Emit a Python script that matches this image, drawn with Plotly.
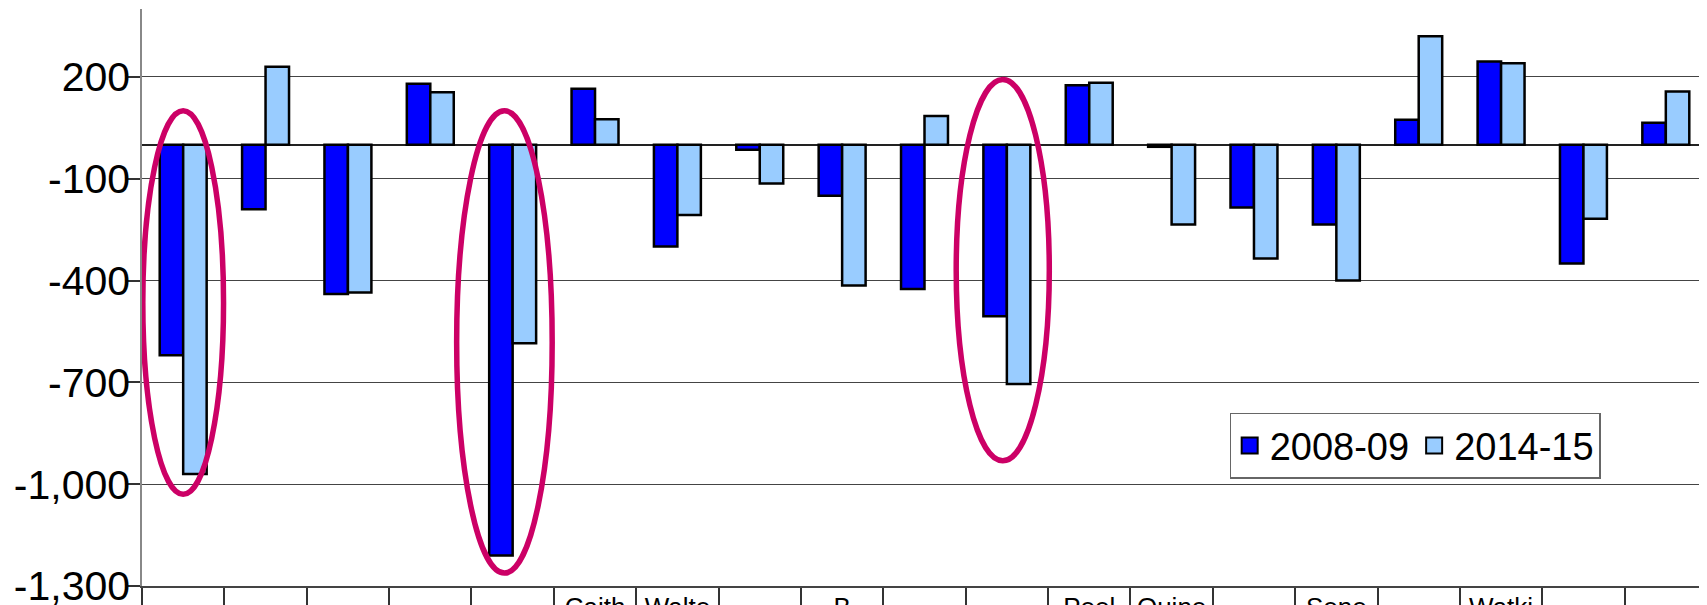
import plotly.graph_objects as go

# ---- data ----
categories = ["", "", "", "", "", "Caith", "Walte", "", "B", "", "",
              "Peel", "Quine", "", "Sene", "", "Watki", "", ""]
series_2008 = [-620, -190, -440, 180, -1210, 165, -300, -15, -150, -425, -505,
               175, -6, -185, -235, 74, 245, -350, 65]
series_2014 = [-970, 230, -435, 155, -585, 75, -207, -114, -415, 85, -705,
               183, -235, -335, -400, 320, 240, -218, 157]
series_names = ["2008-09", "2014-15"]
series_colors = ["#0000FF", "#99CCFF"]
y_ticks = [200, -100, -400, -700, -1000, -1300]
# highlighted groups: category index, centre offset, half width (in categories), top, bottom (data units)
highlights = [
    dict(cat=0, off=0.0, half=0.49, top=100, bottom=-1030),
    dict(cat=4, off=-0.10, half=0.58, top=100, bottom=-1262),
    dict(cat=10, off=-0.05, half=0.565, top=192, bottom=-931),
]

x = list(range(len(categories)))
FONT = "Liberation Sans, Arial, sans-serif"

fig = go.Figure()
for name, color, vals in zip(series_names, series_colors, [series_2008, series_2014]):
    fig.add_trace(go.Bar(x=x, y=vals, name=name, legendgroup=name, showlegend=False,
                         marker=dict(color=color, line=dict(color="black", width=2.5))))
    # legend entry with a larger square swatch
    fig.add_trace(go.Scatter(x=[None], y=[None], mode="markers", name=name, legendgroup=name,
                             marker=dict(symbol="square", size=16, color=color,
                                         line=dict(color="black", width=2))))

for h in highlights:
    c = h["cat"] + h["off"]
    fig.add_shape(type="circle", xref="x", yref="y",
                  x0=c - h["half"], x1=c + h["half"], y0=h["bottom"], y1=h["top"],
                  line=dict(color="#CC0066", width=5.5), fillcolor="rgba(0,0,0,0)",
                  layer="above")

# the page body adds an 8px margin, so the figure is 8px smaller
fig.update_layout(
    width=1699, height=597,
    margin=dict(l=134, r=0, t=1, b=19, pad=0, autoexpand=False),
    paper_bgcolor="white", plot_bgcolor="white",
    barmode="group", bargap=0.43, bargroupgap=0,
    font=dict(family=FONT, color="black"),
    showlegend=True,
    legend=dict(orientation="h", x=0.695, y=0.30, xanchor="left", yanchor="top",
                font=dict(size=38, family=FONT), bordercolor="#666", borderwidth=1.5,
                bgcolor="white", itemwidth=30, tracegroupgap=0),
    xaxis=dict(range=[-0.5, len(categories) - 0.5], tickmode="array", tickvals=x,
               ticktext=categories, ticks="", showgrid=False, zeroline=False,
               showline=True, linecolor="#444", linewidth=1.5, automargin=False,
               tickfont=dict(size=26, family=FONT), ticklabelstandoff=-3,
               ticklabeloverflow="allow",
               minor=dict(tickmode="array", tickvals=[i - 0.5 for i in range(len(categories) + 1)],
                          ticks="outside", ticklen=30, tickwidth=1.5, tickcolor="#333",
                          showgrid=False)),
    yaxis=dict(range=[-1300, 400], tickmode="array", tickvals=y_ticks,
               ticktext=[f"{v:,}" for v in y_ticks], ticks="outside", ticklen=12,
               tickwidth=1.5, tickcolor="#333", showgrid=True, gridcolor="#444",
               gridwidth=1.2, zeroline=True, zerolinecolor="#222", zerolinewidth=1.5,
               showline=True, linecolor="#888", linewidth=1.5, automargin=False,
               ticklabeloverflow="allow",
               tickfont=dict(size=41, family=FONT), ticklabelstandoff=-10),
)

fig.write_html("out.html")
